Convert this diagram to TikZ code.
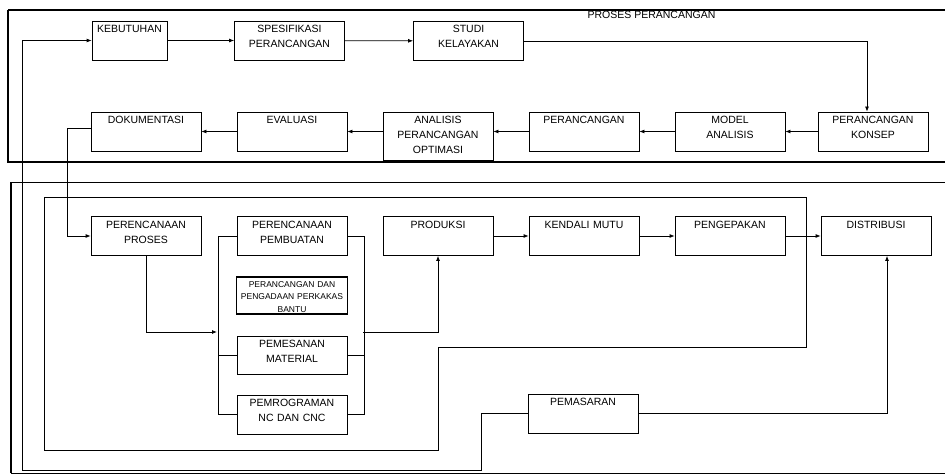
\documentclass[tikz,border=0pt]{standalone}
\usepackage{fontspec}
\setmainfont{Liberation Sans}
\usetikzlibrary{arrows.meta}

\begin{document}
\begin{tikzpicture}[x=1pt,y=-1pt,line width=0.8pt,node distance=146pt,
  kotak/.style={draw,text width=102pt,align=center,inner xsep=4pt,inner ysep=3pt,text height=8.5pt,text depth=24.5pt,font=\fontsize{10.5}{15}\selectfont},
  kecil/.style={kotak,text width=105pt,inner xsep=3pt,line width=1.1pt,text height=7pt,text depth=24pt,font=\fontsize{8.5}{12.5}\selectfont}]

\useasboundingbox (0,0) rectangle (945,476);

% Frames
\draw[line width=1.6pt] (945,10) -- (8,10);
\draw[line width=1.1pt] (8,10) -- (8,162) -- (945,162);
\draw (945,182) -- (11,182);
\draw[line width=1.8pt] (11,182) -- (11,473);
\draw (11,473) -- (945,473);
\draw (44,197) -- (806,197) -- (806,347) -- (438,347) -- (438,450) -- (44,450) -- cycle;
\node[font=\fontsize{10.5}{12}\selectfont] (judul) at (651.5,15) {PROSES PERANCANGAN};

% Nodes
\node[kotak,text width=67pt] (kebutuhan) at (129.5,40.5) {KEBUTUHAN};
\node[kotak] (spesifikasi) at (289.5,40.5) {SPESIFIKASI\\PERANCANGAN};
\node[kotak] (studi) at (468.5,41) {STUDI\\KELAYAKAN};

\node[kotak] (dokumentasi) at (146,131.5) {DOKUMENTASI};
\node[kotak,right of=dokumentasi] (evaluasi) {EVALUASI};
\node[kotak,right of=evaluasi,yshift=-4.5pt,text depth=33.5pt] (analisis) {ANALISIS\\PERANCANGAN\\OPTIMASI};
\node[kotak,right of=evaluasi,node distance=292pt] (perancangan) {PERANCANGAN};
\node[kotak,right of=perancangan] (model) {MODEL\\ANALISIS};
\node[kotak,right of=model,node distance=143pt] (konsep) {PERANCANGAN\\KONSEP};

\node[kotak] (renproses) at (146,236) {PERENCANAAN\\PROSES};
\node[kotak,right of=renproses] (renbuat) {PERENCANAAN\\PEMBUATAN};
\node[kotak,right of=renbuat] (produksi) {PRODUKSI};
\node[kotak,right of=produksi] (mutu) {KENDALI MUTU};
\node[kotak,right of=mutu] (kemas) {PENGEPAKAN};
\node[kotak,right of=kemas] (distribusi) {DISTRIBUSI};

\node[kecil,node distance=59.5pt,below of=renbuat] (perkakas) {PERANCANGAN DAN\\PENGADAAN PERKAKAS\\BANTU};
\node[kotak,node distance=59.5pt,below of=perkakas,text depth=23.5pt] (pesan) {PEMESANAN\\MATERIAL};
\node[kotak,node distance=59.5pt,below of=pesan] (program) {PEMROGRAMAN\\NC DAN CNC};
\node[kotak] (pemasaran) at (583,413.5) {PEMASARAN};

\coordinate (masuk) at (217,332);
\coordinate (keluar) at (363,332);
\coordinate (pojok) at (22,470);

%arcs
\path (kebutuhan) edge[-{Latex[length=5pt,width=4pt]}] (spesifikasi);
\path (spesifikasi) edge[-{Latex[length=5pt,width=4pt]}] (studi);
\draw[-{Latex[length=5pt,width=4pt]}] (studi.east) -| ([xshift=-6pt]konsep.north);
\path (konsep) edge[-{Latex[length=5pt,width=4pt]}] (model);
\path (model) edge[-{Latex[length=5pt,width=4pt]}] (perancangan);
\draw[-{Latex[length=5pt,width=4pt]}] (perancangan.west) -- (perancangan.west -| analisis.east);
\draw[-{Latex[length=5pt,width=4pt]}] (analisis.west |- evaluasi.east) -- (evaluasi.east);
\path (evaluasi) edge[-{Latex[length=5pt,width=4pt]}] (dokumentasi);
\draw[-{Latex[length=5pt,width=4pt]}] ([yshift=3pt]dokumentasi.west) -- ++(-23,0) |- (renproses.west);

\draw[-{Latex[length=5pt,width=4pt]}] (renproses.south) |- (masuk);
\draw (renbuat.west) -- ++(-18,0) |- (program.west);
\draw (pesan.west) -- ++(-18,0);
\draw (renbuat.east) -- ++(17,0) |- (program.east);
\draw (pesan.east) -- ++(17,0);
\draw[-{Latex[length=5pt,width=4pt]}] (keluar) -| (produksi.south);

\path (produksi) edge[-{Latex[length=5pt,width=4pt]}] (mutu);
\path (mutu) edge[-{Latex[length=5pt,width=4pt]}] (kemas);
\path (kemas) edge[-{Latex[length=5pt,width=4pt]}] (distribusi);
\draw[-{Latex[length=5pt,width=4pt]}] (pemasaran.east) -| ([xshift=11pt]distribusi.south);
\draw[-{Latex[length=5pt,width=4pt]}] (pemasaran.west) -- ++(-46,0) |- (pojok) |- (kebutuhan.west);

\end{tikzpicture}
\end{document}
